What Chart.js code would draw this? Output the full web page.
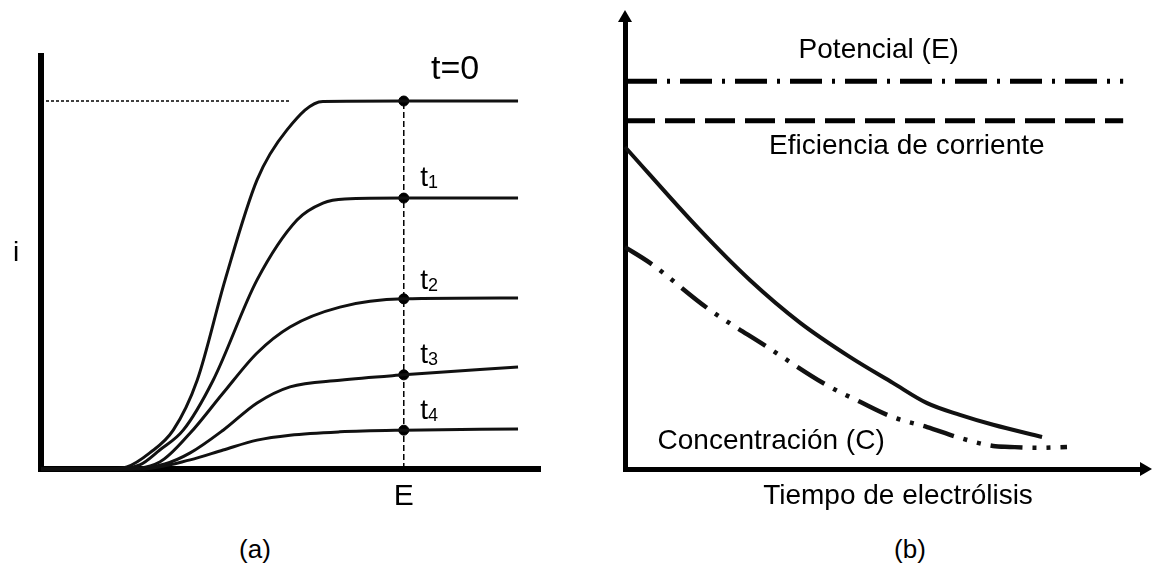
<!DOCTYPE html>
<html>
<head>
<meta charset="utf-8">
<script src="https://cdn.jsdelivr.net/npm/chart.js"></script>
<style>
  body { margin:0; background:#fff; width:1152px; height:564px; position:relative; overflow:hidden;
         font-family:"Liberation Sans", Arial, sans-serif; }
  #boxA { position:absolute; left:0; top:0; }
  #boxB { position:absolute; left:576px; top:0; }
  .cap { position:absolute; top:534px; width:100px; font-size:26px; text-align:center; color:#000; }
</style>
</head>
<body>
  <canvas id="boxA" width="576" height="520"></canvas>
  <canvas id="boxB" width="576" height="520"></canvas>
  <div class="cap" style="left:205px">(a)</div>
  <div class="cap" style="left:860px">(b)</div>

<script>
  // ---- panel (a): i vs E curves at several times (arbitrary units, 0-10)
  let t0X = [0, 1.32, 1.72, 2.18, 2.65, 3.13, 3.69, 4.33, 4.93, 5.65, 7.27, 9.56];
  let t0Y = [0, 0, 0.05, 0.39, 0.94, 2.15, 4.58, 7.0, 8.21, 8.9, 8.91, 8.91];
  let t1X = [0, 1.38, 1.98, 2.38, 2.85, 3.45, 4.33, 5.13, 5.65, 6.09, 7.27, 9.56];
  let t1Y = [0, 0, 0.1, 0.46, 0.94, 2.15, 4.58, 6.03, 6.44, 6.54, 6.56, 6.56];
  let t2X = [0, 1.58, 2.38, 2.99, 3.65, 4.33, 4.99, 5.99, 7.27, 9.56];
  let t2Y = [0, 0, 0.17, 0.87, 1.84, 2.81, 3.44, 3.92, 4.12, 4.14];
  let t3X = [0, 1.78, 2.48, 2.99, 3.65, 4.33, 4.99, 5.99, 7.27, 9.56];
  let t3Y = [0, 0, 0.12, 0.39, 0.94, 1.6, 1.99, 2.15, 2.28, 2.47];
  let t4X = [0, 1.98, 2.99, 3.65, 4.33, 4.99, 5.99, 7.27, 9.56];
  let t4Y = [0, 0, 0.22, 0.46, 0.70, 0.82, 0.9, 0.94, 0.97];
  let potE = 7.27;                               // the E where the dots sit
  let dotY = [8.91, 6.56, 4.12, 2.28, 0.94];      // i at E for t=0..t4
  let limitEnd = 4.99;                           // where the dotted limit line stops

  // ---- panel (b): vs tiempo de electrolisis
  let potencialLevel = 8.60;
  let eficienciaLevel = 7.72;
  let flatEnd = 9.58;
  let solidX = [0, 1.44, 2.40, 3.37, 4.33, 5.15, 5.81, 6.44, 7.08, 8.02];
  let solidY = [7.14, 5.30, 4.19, 3.24, 2.48, 1.91, 1.46, 1.20, 0.98, 0.71];
  let concX = [0, 0.48, 1.58, 2.73, 3.88, 4.52, 5.15, 5.81, 6.44, 7.08, 7.40, 7.92, 8.50];
  let concY = [4.92, 4.57, 3.57, 2.71, 1.86, 1.49, 1.15, 0.93, 0.69, 0.51, 0.49, 0.47, 0.49];

  let FONT = '"Liberation Sans", Arial, sans-serif';

  function pts(xs, ys) {
    return xs.map((x, i) => ({x: x, y: ys[i]}));
  }

  function curve(xs, ys, width, dash) {
    return {
      data: pts(xs, ys),
      borderColor: '#111',
      borderWidth: width,
      borderDash: dash || [],
      pointRadius: 0,
      cubicInterpolationMode: 'monotone',
      clip: false
    };
  }

  // text drawn in data coordinates of the chart
  function textPlugin(items) {
    return {
      id: 'texts',
      afterDraw(chart) {
        let ctx = chart.ctx, sx = chart.scales.x, sy = chart.scales.y;
        ctx.save();
        ctx.fillStyle = '#000';
        ctx.textBaseline = 'middle';
        items.forEach(it => {
          let px = sx.getPixelForValue(it.x), py = sy.getPixelForValue(it.y);
          ctx.font = it.size + 'px ' + FONT;
          ctx.textAlign = it.align || 'center';
          ctx.fillText(it.text, px, py);
          if (it.sub) {
            let w = ctx.measureText(it.text).width;
            ctx.font = Math.round(it.size * 0.65) + 'px ' + FONT;
            ctx.textAlign = 'left';
            ctx.fillText(it.sub, px + w, py + it.size * 0.18);
          }
        });
        ctx.restore();
      }
    };
  }

  let arrowPlugin = {
    id: 'arrows',
    afterDraw(chart) {
      let ctx = chart.ctx, a = chart.chartArea;
      ctx.save();
      ctx.fillStyle = '#000';
      ctx.beginPath();
      ctx.moveTo(a.left, a.top - 8);
      ctx.lineTo(a.left - 7, a.top + 4);
      ctx.lineTo(a.left + 7, a.top + 4);
      ctx.closePath();
      ctx.fill();
      ctx.beginPath();
      ctx.moveTo(a.right + 7, a.bottom);
      ctx.lineTo(a.right - 5, a.bottom - 7);
      ctx.lineTo(a.right - 5, a.bottom + 7);
      ctx.closePath();
      ctx.fill();
      ctx.restore();
    }
  };

  function axes(width) {
    let ax = {
      type: 'linear', min: 0, max: 10,
      ticks: {display: false},
      grid: {display: false, drawTicks: false},
      border: {display: true, color: '#000', width: width}
    };
    return {x: Object.assign({}, ax), y: Object.assign({}, ax)};
  }

  // ---------- chart (a)
  let dataA = {
    datasets: [
      curve(t0X, t0Y, 3),
      curve(t1X, t1Y, 3),
      curve(t2X, t2Y, 3),
      curve(t3X, t3Y, 3),
      curve(t4X, t4Y, 3),
      {
        data: [{x: 0, y: dotY[0]}, {x: limitEnd, y: dotY[0]}],
        borderColor: '#000', borderWidth: 1.5, borderDash: [3, 2], pointRadius: 0
      },
      {
        data: [{x: potE, y: 0}, {x: potE, y: dotY[0]}],
        borderColor: '#000', borderWidth: 1.5, borderDash: [6, 3], pointRadius: 0
      },
      {
        type: 'scatter',
        data: dotY.map(v => ({x: potE, y: v})),
        backgroundColor: '#000', borderColor: '#000', pointRadius: 5, showLine: false
      }
    ]
  };

  let textsA = [
    {text: 't=0', x: 8.3, y: 9.66, size: 34},
    {text: 't', sub: '1', x: 7.6, y: 7.05, size: 28, align: 'left'},
    {text: 't', sub: '2', x: 7.6, y: 4.55, size: 28, align: 'left'},
    {text: 't', sub: '3', x: 7.6, y: 2.76, size: 28, align: 'left'},
    {text: 't', sub: '4', x: 7.6, y: 1.40, size: 28, align: 'left'},
    {text: 'i', x: -0.5, y: 5.23, size: 28},
    {text: 'E', x: potE, y: -0.68, size: 30}
  ];

  let chartA = new Chart(document.getElementById('boxA'), {
    type: 'line',
    data: dataA,
    options: {
      responsive: false,
      animation: false,
      layout: {padding: {left: 41, top: 56, right: 36, bottom: 51}},
      plugins: {legend: {display: false}, tooltip: {enabled: false}},
      scales: axes(6)
    },
    plugins: [textPlugin(textsA)]
  });

  // ---------- chart (b)
  let dataB = {
    datasets: [
      {
        data: [{x: 0, y: potencialLevel}, {x: flatEnd, y: potencialLevel}],
        borderColor: '#000', borderWidth: 5, borderDash: [32, 10, 3, 10], pointRadius: 0
      },
      {
        data: [{x: 0, y: eficienciaLevel}, {x: flatEnd, y: eficienciaLevel}],
        borderColor: '#000', borderWidth: 5, borderDash: [30, 10], pointRadius: 0
      },
      curve(solidX, solidY, 4),
      curve(concX, concY, 4.5, [32, 10, 4, 10, 4, 10])
    ]
  };

  let textsB = [
    {text: 'Potencial (E)', x: 4.88, y: 9.29, size: 28},
    {text: 'Eficiencia de corriente', x: 5.42, y: 7.16, size: 28},
    {text: 'Concentración (C)', x: 2.81, y: 0.62, size: 28},
    {text: 'Tiempo de electrólisis', x: 5.25, y: -0.6, size: 28}
  ];

  let chartB = new Chart(document.getElementById('boxB'), {
    type: 'line',
    data: dataB,
    options: {
      responsive: false,
      animation: false,
      layout: {padding: {left: 49, top: 18, right: 7, bottom: 51}},
      plugins: {legend: {display: false}, tooltip: {enabled: false}},
      scales: axes(5)
    },
    plugins: [textPlugin(textsB), arrowPlugin]
  });
</script>
</body>
</html>
